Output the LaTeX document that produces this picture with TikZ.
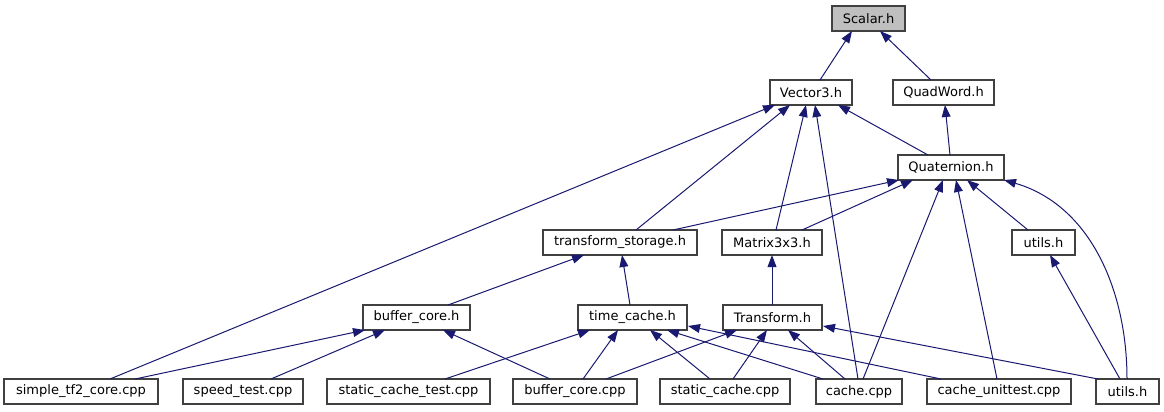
\documentclass[tikz,border=0pt]{standalone}
\usepackage{fontspec}
\setmainfont{DejaVu Sans}
\usetikzlibrary{arrows.meta,calc}
\definecolor{edgec}{HTML}{191970}
\definecolor{boxc}{HTML}{404040}
\definecolor{rootc}{HTML}{BFBFBF}
\newcommand\mkbox[7][]{\node[bx,#1,minimum width={(#5-#3)*0.75pt},minimum height={(#6-#4)*0.75pt}] (#2) at ({(#3+#5)/2},{(#4+#6)/2}) {#7};}
\begin{document}
\begin{tikzpicture}[x=0.75pt,y=-0.75pt,
  bx/.style={draw=boxc,fill=white,line width=0.9pt,inner sep=0pt,outer sep=0pt,
    font=\fontsize{9.75}{12}\selectfont,text=black},
  e/.style={draw=edgec,line width=0.75pt,-{Triangle[length=9pt,width=6.6pt]}}]
\useasboundingbox (0,0) rectangle (1164,411);
% nodes
\mkbox[fill=rootc]{scalar}{832}{6}{905}{31}{Scalar.h}
\mkbox{vec}{770}{80}{852}{105}{Vector3.h}
\mkbox{quad}{893}{80}{994}{105}{QuadWord.h}
\mkbox{quat}{898}{155}{1004}{180}{Quaternion.h}
\mkbox{ts}{543}{230}{697}{255}{transform\_storage.h}
\mkbox{mat}{722}{230}{822}{255}{Matrix3x3.h}
\mkbox{uU}{1012}{230}{1075}{255}{utils.h}
\mkbox{bch}{363}{305}{470}{330}{buffer\_core.h}
\mkbox{tc}{578}{305}{687}{330}{time\_cache.h}
\mkbox{tr}{723}{305}{822}{330}{Transform.h}
\mkbox{stf}{4}{379}{158}{404}{simple\_tf2\_core.cpp}
\mkbox{spd}{183}{379}{303}{404}{speed\_test.cpp}
\mkbox{sct}{327}{379}{490}{404}{static\_cache\_test.cpp}
\mkbox{bcc}{513}{379}{637}{404}{buffer\_core.cpp}
\mkbox{sc}{660}{379}{790}{404}{static\_cache.cpp}
\mkbox{cc}{816}{379}{902}{404}{cache.cpp}
\mkbox{cu}{927}{379}{1071}{404}{cache\_unittest.cpp}
\mkbox{uB}{1096}{379}{1159}{404}{utils.h}
% edges
\draw[e] ($(vec.north west)+(50,0)$) -- ($(scalar.south west)+(20,0)$);
\draw[e] ($(quad.north west)+(38,0)$) -- ($(scalar.south west)+(48,0)$);
\draw[e] ($(quat.north west)+(30,0)$) -- ($(vec.south west)+(68,0)$);
\draw[e] ($(quat.north west)+(52,0)$) -- ($(quad.south west)+(52,0)$);
\draw[e] ($(stf.north west)+(106,0)$) -- ($(vec.south west)+(5,0)$);
\draw[e] ($(ts.north west)+(93,0)$) -- ($(vec.south west)+(20,0)$);
\draw[e] ($(mat.north west)+(54,0)$) -- ($(vec.south west)+(36,0)$);
\draw[e] ($(cc.north west)+(42,0)$) -- ($(vec.south west)+(45,0)$);
\draw[e] ($(ts.north west)+(130,0)$) -- ($(quat.south west)+(1,0)$);
\draw[e] ($(mat.north west)+(80,0)$) -- ($(quat.south west)+(15,0)$);
\draw[e] ($(cc.north west)+(47,0)$) -- ($(quat.south west)+(45,0)$);
\draw[e] ($(cu.north west)+(70,0)$) -- ($(quat.south west)+(58,0)$);
\draw[e] ($(uU.north west)+(16,0)$) -- ($(quat.south west)+(69,0)$);
\draw[e] ($(uB.north west)+(31,0)$) .. controls ($(uB.north west)+(31,-89)$) and ($(quat.south east)+(86,25)$) .. (quat.south east);
\draw[e] ($(bch.north west)+(85,0)$) -- ($(ts.south west)+(41,0)$);
\draw[e] ($(tc.north west)+(52,0)$) -- ($(ts.south west)+(79,0)$);
\draw[e] ($(tr.north west)+(49,0)$) -- ($(mat.south west)+(50,0)$);
\draw[e] ($(uB.north west)+(24,0)$) -- ($(uU.south west)+(38,0)$);
\draw[e] ($(stf.north west)+(131,0)$) -- ($(bch.south west)+(2,0)$);
\draw[e] ($(spd.north west)+(88,0)$) -- ($(bch.south west)+(22,0)$);
\draw[e] ($(bcc.north west)+(37,0)$) -- ($(bch.south west)+(80,0)$);
\draw[e] ($(sct.north west)+(118,0)$) -- ($(tc.south west)+(12,0)$);
\draw[e] ($(bcc.north west)+(70,0)$) -- ($(tc.south west)+(40,0)$);
\draw[e] ($(sc.north west)+(50,0)$) -- ($(tc.south west)+(72,0)$);
\draw[e] ($(cc.north west)+(7,0)$) -- ($(tc.south west)+(89,0)$);
\draw[e] ($(cu.north west)+(14,0)$) -- ($(tc.south east)+(1,-4)$);
\draw[e] ($(bcc.north west)+(93,0)$) -- ($(tr.south west)+(14,0)$);
\draw[e] ($(sc.north west)+(73,0)$) -- ($(tr.south west)+(44,0)$);
\draw[e] ($(cc.north west)+(29,0)$) -- ($(tr.south west)+(65,0)$);
\draw[e] ($(uB.north west)+(2,0)$) -- ($(tr.south east)+(1,-4)$);
\end{tikzpicture}
\end{document}
